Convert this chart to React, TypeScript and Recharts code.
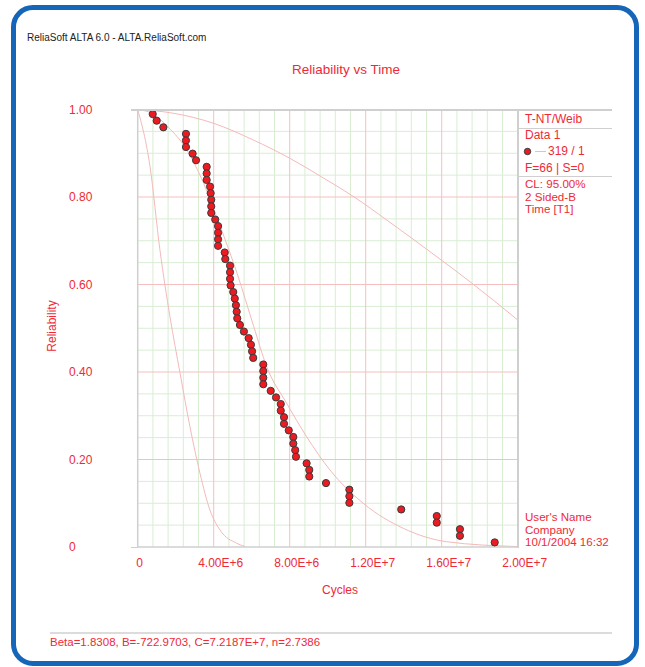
import React from "react";
import { ComposedChart, XAxis, YAxis, ReferenceLine, Line, Scatter } from "recharts";

const FONT = '"Liberation Sans", Arial, sans-serif';
const RED = "#ee2a36";
const FRAME = "#cfcfcf";
const CURVE = "#f4b9b9";
const MINOR = "#d9edd3";
const MAJOR = "#f5bfbf";

// failure times (cycles) and median-rank reliability of the 66 failures
const failureCycles = [
  0.79e6, 1.0e6, 1.35e6, 2.54e6, 2.54e6, 2.54e6, 2.89e6, 3.07e6, 3.63e6, 3.63e6, 3.63e6,
  3.81e6, 3.84e6, 3.87e6, 3.87e6, 3.87e6, 4.08e6, 4.23e6, 4.23e6, 4.23e6, 4.23e6, 4.58e6,
  4.61e6, 4.86e6, 4.86e6, 4.86e6, 4.89e6, 5.03e6, 5.11e6, 5.17e6, 5.21e6, 5.24e6, 5.38e6,
  5.59e6, 5.84e6, 5.96e6, 6.02e6, 6.08e6, 6.61e6, 6.61e6, 6.61e6, 6.61e6, 7.0e6, 7.28e6,
  7.53e6, 7.53e6, 7.7e6, 7.7e6, 7.95e6, 8.19e6, 8.19e6, 8.29e6, 8.33e6, 8.89e6, 9.03e6,
  9.03e6, 9.91e6, 11.14e6, 11.14e6, 11.14e6, 13.87e6, 15.74e6, 15.74e6, 16.96e6, 16.96e6,
  18.79e6
];
const failureReliability = [
  0.9895, 0.9744, 0.9593, 0.9443, 0.9292, 0.9142, 0.8991, 0.884, 0.869, 0.8539, 0.8389,
  0.8238, 0.8087, 0.7937, 0.7786, 0.7636, 0.7485, 0.7334, 0.7184, 0.7033, 0.6883, 0.6732,
  0.6581, 0.6431, 0.628, 0.613, 0.5979, 0.5828, 0.5678, 0.5527, 0.5377, 0.5226, 0.5075,
  0.4925, 0.4774, 0.4623, 0.4473, 0.4322, 0.4172, 0.4021, 0.387, 0.372, 0.3569, 0.3419,
  0.3268, 0.3117, 0.2967, 0.2816, 0.2666, 0.2515, 0.2364, 0.2214, 0.2063, 0.1913, 0.1762,
  0.1611, 0.1461, 0.131, 0.116, 0.1009, 0.0858, 0.0708, 0.0557, 0.0407, 0.0256, 0.0105
];

// upper bound curve
const upperCycles = [0, 1.72e6, 4.0e6, 6.1e6, 8.03e6, 9.79e6, 11.37e6, 13.12e6, 15.75e6, 17.5e6, 20e6];
const upperReliability = [1.0, 0.9926, 0.9684, 0.93, 0.888, 0.843, 0.8007, 0.747, 0.6633, 0.606, 0.519];

// middle curve
const middleCycles = [0, 0.8e6, 1.6e6, 2.59e6, 3.47e6, 4.35e6, 5.23e6, 6.11e6, 6.79e6, 7.84e6, 8.89e6, 10.12e6, 11.87e6, 13.98e6, 16.26e6, 20e6];
const middleReliability = [1.0, 0.99, 0.96, 0.9074, 0.8313, 0.7321, 0.6256, 0.5035, 0.4121, 0.3285, 0.2521, 0.176, 0.0999, 0.0427, 0.0121, 0.001];

// lower bound curve
const lowerCycles = [0, 0.65e6, 1.17e6, 1.7e6, 2.23e6, 2.75e6, 3.28e6, 3.8e6, 4.33e6, 5.21e6, 5.65e6];
const lowerReliability = [1.0, 0.869, 0.679, 0.526, 0.397, 0.275, 0.168, 0.0846, 0.0389, 0.0085, 0.001];

const xTicks = [0, 4e6, 8e6, 1.2e7, 1.6e7, 2e7];
const yTicks = [0, 0.2, 0.4, 0.6, 0.8, 1.0];
const xMajorGrid = [4e6, 8e6, 1.2e7, 1.6e7];
const yMajorGrid = [0.2, 0.4, 0.6, 0.8];
const xMinorGrid = [
  0.8e6, 1.6e6, 2.4e6, 3.2e6, 4.8e6, 5.6e6, 6.4e6, 7.2e6, 8.8e6, 9.6e6, 10.4e6, 11.2e6,
  12.8e6, 13.6e6, 14.4e6, 15.2e6, 16.8e6, 17.6e6, 18.4e6, 19.2e6
];
const yMinorGrid = [0.05, 0.1, 0.15, 0.25, 0.3, 0.35, 0.45, 0.5, 0.55, 0.65, 0.7, 0.75, 0.85, 0.9, 0.95];

const toPoints = (xs: number[], ys: number[]) => xs.map((x, i) => ({ x, r: ys[i] }));

const failures = toPoints(failureCycles, failureReliability);
const upper = toPoints(upperCycles, upperReliability);
const middle = toPoints(middleCycles, middleReliability);
const lower = toPoints(lowerCycles, lowerReliability);

const XTick = (props: any) => {
  const v = props.payload.value;
  const label = v === 0 ? "0" : v.toExponential(2).toUpperCase();
  return (
    <text x={props.x + (v === 0 ? 2 : 7)} y={props.y + 12} textAnchor="middle" fill={RED} fontSize={12} fontFamily={FONT}>
      {label}
    </text>
  );
};

const YTick = (props: any) => {
  const v = props.payload.value;
  return (
    <text x={69} y={props.y + 4} textAnchor="start" fill={RED} fontSize={12} fontFamily={FONT}>
      {v === 0 ? "0" : v.toFixed(2)}
    </text>
  );
};

const Dot = (props: any) => (
  <circle cx={props.cx} cy={props.cy} r={3.6} fill="#ee1a22" stroke="#3a3a3a" strokeWidth={1} />
);

const abs = (style: React.CSSProperties): React.CSSProperties => ({ position: "absolute", ...style });
const redText: React.CSSProperties = { color: RED, fontFamily: FONT, fontSize: 12, lineHeight: "12px", whiteSpace: "nowrap" };
const smallRed: React.CSSProperties = { ...redText, fontSize: 11.6 };

export default function App() {
  return (
    <div style={{ position: "relative", width: 645, height: 667, background: "#fff", overflow: "hidden" }}>
      <style>{"body{margin:0}"}</style>
      <div
        style={abs({
          left: 11,
          top: 5,
          width: 628,
          height: 661,
          border: "5px solid #1565b8",
          borderRadius: 22,
          boxSizing: "border-box"
        })}
      />
      <div style={abs({ left: 27, top: 32, fontFamily: FONT, fontSize: 10, color: "#222", whiteSpace: "nowrap" })}>
        ReliaSoft ALTA 6.0 - ALTA.ReliaSoft.com
      </div>
      <div style={abs({ left: 0, width: 692, top: 62, textAlign: "center", fontFamily: FONT, fontSize: 13.5, color: RED })}>
        Reliability vs Time
      </div>

      <ComposedChart
        width={645}
        height={667}
        margin={{ top: 109.5, right: 127.3, bottom: 90, left: 77.7 }}
        style={{ position: "absolute", left: 0, top: 0 }}
      >
        <XAxis
          dataKey="x"
          type="number"
          domain={[0, 2e7]}
          ticks={xTicks}
          allowDataOverflow
          height={30}
          tickLine={false}
          axisLine={{ stroke: FRAME, strokeWidth: 1.5 }}
          tick={<XTick />}
        />
        <YAxis
          dataKey="r"
          type="number"
          domain={[0, 1]}
          ticks={yTicks}
          allowDataOverflow
          width={60}
          tickLine={false}
          axisLine={{ stroke: FRAME, strokeWidth: 1.5 }}
          tick={<YTick />}
        />
        {xMinorGrid.map((v) => (
          <ReferenceLine key={"xm" + v} x={v} stroke={MINOR} strokeWidth={1} />
        ))}
        {yMinorGrid.map((v) => (
          <ReferenceLine key={"ym" + v} y={v} stroke={MINOR} strokeWidth={1} />
        ))}
        {xMajorGrid.map((v) => (
          <ReferenceLine key={"xM" + v} x={v} stroke={MAJOR} strokeWidth={1} />
        ))}
        {yMajorGrid.map((v) => (
          <ReferenceLine key={"yM" + v} y={v} stroke={MAJOR} strokeWidth={1} />
        ))}
        <Line data={upper} dataKey="r" type="monotone" stroke={CURVE} strokeWidth={1} dot={false} isAnimationActive={false} />
        <Line data={middle} dataKey="r" type="monotone" stroke={CURVE} strokeWidth={1} dot={false} isAnimationActive={false} />
        <Line data={lower} dataKey="r" type="monotone" stroke={CURVE} strokeWidth={1} dot={false} isAnimationActive={false} />
        <Scatter data={failures} dataKey="r" shape={<Dot />} isAnimationActive={false} />
      </ComposedChart>

      {/* frame lines of the plot and the legend panel */}
      <div style={abs({ left: 131, top: 109, width: 481, height: 1.5, background: FRAME })} />
      <div style={abs({ left: 517, top: 109, width: 1.5, height: 439, background: FRAME })} />
      <div style={abs({ left: 518, top: 127.5, width: 94, height: 1.5, background: FRAME })} />
      <div style={abs({ left: 518, top: 175.5, width: 94, height: 1.5, background: FRAME })} />
      <div style={abs({ left: 131, top: 546.5, width: 7, height: 1.5, background: FRAME })} />

      <div style={abs({ ...redText, left: 525, top: 113 })}>T-NT/Weib</div>
      <div style={abs({ ...redText, left: 525, top: 129 })}>Data 1</div>
      <svg style={abs({ left: 522, top: 146 })} width={26} height={12}>
        <circle cx={5.5} cy={5.5} r={3.2} fill="#ee1a22" stroke="#3a3a3a" strokeWidth={1} />
        <line x1={13} y1={5.5} x2={24} y2={5.5} stroke={CURVE} strokeWidth={1} />
      </svg>
      <div style={abs({ ...redText, left: 548, top: 145 })}>319 / 1</div>
      <div style={abs({ ...redText, left: 525, top: 162 })}>F=66 | S=0</div>
      <div style={abs({ ...smallRed, left: 525, top: 178 })}>CL: 95.00%</div>
      <div style={abs({ ...smallRed, left: 525, top: 190.7 })}>2 Sided-B</div>
      <div style={abs({ ...smallRed, left: 525, top: 203.4 })}>Time [T1]</div>

      <div style={abs({ ...smallRed, left: 525, top: 511 })}>User's Name</div>
      <div style={abs({ ...smallRed, left: 525, top: 523.7 })}>Company</div>
      <div style={abs({ ...smallRed, left: 525, top: 536.4 })}>10/1/2004 16:32</div>

      <div style={abs({ ...redText, left: 0, width: 680, top: 584, textAlign: "center" })}>Cycles</div>
      <div
        style={abs({
          ...redText,
          left: 52,
          top: 326,
          transform: "translate(-50%, -50%) rotate(-90deg)"
        })}
      >
        Reliability
      </div>

      <div style={abs({ left: 50, top: 632, width: 562, height: 1.5, background: "#dcdcdc" })} />
      <div style={abs({ ...redText, fontSize: 11.5, left: 50, top: 636 })}>
        Beta=1.8308, B=-722.9703, C=7.2187E+7, n=2.7386
      </div>
    </div>
  );
}
